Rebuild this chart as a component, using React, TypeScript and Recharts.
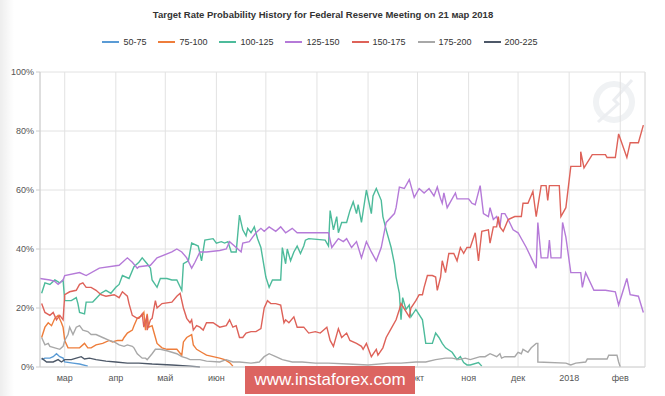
import { CartesianGrid, Line, LineChart, ReferenceLine, XAxis, YAxis } from "recharts";

// x = days since 1 мар 2017, y = probability in %
const monthTicks = [0, 31, 61, 92, 122, 153, 184, 214, 245, 275, 306, 337];
const monthLabels = ["мар", "апр", "май", "июн", "июл", "авг", "сен", "окт", "ноя", "дек", "2018", "фев"];
const percentTicks = [0, 20, 40, 60, 80, 100];

const rate50to75: [number, number][] = [
  [-14, 2.5], [-12, 3], [-9, 3], [-7, 3.5], [-5, 4.5], [-3, 3.5], [-1, 3], [0, 1.7], [5, 1.3], [9, 1], [14, 0.3],
];

const rate75to100: [number, number][] = [
  [-14, 10], [-12, 13.5], [-10, 15], [-8, 14], [-6, 16.5], [-4, 17.5], [-2, 15], [-1, 13.5], [0, 9], [2, 6.5],
  [9, 6.5], [12, 8], [14, 6.5], [16, 6.5], [19, 7.5], [23, 8], [27, 9], [29, 8.5], [32, 9], [35, 9], [36, 10],
  [38, 11.5], [41, 12.5], [42, 14], [44, 16.5], [47, 17.5], [48, 18.5], [49, 12.5], [50, 18], [51, 13.5], [53, 14],
  [55, 10], [56, 8], [59, 6.5], [62, 6], [65, 6], [68, 6], [71, 4], [72, 8.5], [74, 10], [77, 11], [78, 7.5],
  [80, 6], [83, 5], [86, 4], [90, 3.5], [94, 3], [97, 2.5], [100, 1.5], [102, 0.3],
];

const rate100to125: [number, number][] = [
  [-14, 25], [-12, 28.5], [-9, 28], [-6, 29.5], [-3, 28.5], [-1, 29.5], [0, 22.5], [4, 22.5], [7, 23.5], [8, 21.5],
  [9, 18.5], [12, 18], [13, 22], [17, 22], [22, 25], [25, 26], [28, 25], [31, 27], [33, 28], [35, 31], [39, 30],
  [42, 34], [45, 35.5], [47, 37], [50, 35], [52, 33.5], [53, 29.5], [56, 27], [58, 30], [62, 30], [65, 29.5],
  [68, 29.5], [71, 26], [72, 35], [75, 36], [77, 42], [81, 41], [83, 36], [85, 43], [90, 43.5], [92, 42],
  [95, 42.5], [97, 42], [99, 42.5], [101, 39], [104, 39], [106, 51.5], [108, 46.5], [110, 44.5], [111, 47],
  [113, 45.5], [115, 47.5], [117, 43.5], [119, 40.5], [122, 30.5], [124, 27], [126, 29.5], [131, 29.5],
  [132, 40.5], [134, 35], [135, 40], [137, 36], [139, 39], [141, 41], [143, 38.5], [145, 41], [146, 43],
  [148, 43.5], [158, 43], [160, 41], [161, 53], [163, 46.5], [165, 51], [166, 45.5], [168, 49], [171, 49],
  [173, 53], [175, 56], [177, 52], [178, 55], [180, 49], [183, 60], [186, 52], [187, 58], [189, 60.5],
  [192, 56.5], [193, 51], [195, 46.5], [198, 40.5], [200, 35], [201, 30.5], [203, 25], [204, 16], [205, 23.5],
  [207, 19.5], [209, 21], [210, 17], [213, 19.5], [217, 16], [219, 8], [223, 8], [225, 11.5], [227, 10],
  [229, 8], [231, 6.5], [235, 5], [238, 2.5], [240, 3.5], [242, 1.5], [244, 0.7], [246, 0.7], [251, 1.5],
  [253, 0.3],
];

const rate125to150: [number, number][] = [
  [-15, 30], [-9, 29.5], [-6, 29], [-4, 28], [-1, 29.5], [0, 31], [9, 32], [13, 31], [21, 33.5], [33, 34.5],
  [38, 37], [41, 35.5], [44, 33.5], [45, 34], [52, 34.5], [56, 37], [65, 39], [68, 40], [71, 39], [74, 37],
  [77, 33.5], [79, 35.5], [82, 39], [86, 39], [94, 39.5], [98, 40], [100, 42.5], [104, 40.5], [107, 39],
  [108, 42], [112, 42.5], [114, 44], [116, 45.5], [119, 47], [121, 46], [124, 47.5], [128, 46], [131, 47.5],
  [134, 45.5], [138, 47], [141, 45.5], [145, 45.5], [160, 45.5], [162, 40.5], [166, 43.5], [169, 42.5],
  [171, 43.5], [174, 40.5], [177, 42.5], [180, 37], [183, 42.5], [186, 39], [189, 36], [192, 40.5], [195, 49],
  [200, 52], [201, 54], [203, 61], [206, 60.5], [209, 63.5], [212, 57.5], [215, 60.5], [218, 59], [221, 60.5],
  [224, 58], [226, 61], [228, 57], [229, 55.5], [230, 59], [232, 54], [237, 59], [238, 57], [245, 57],
  [247, 55.5], [249, 55], [252, 61.5], [254, 52], [257, 51], [258, 54], [260, 50], [262, 51], [264, 47.5],
  [265, 52], [267, 52], [269, 50], [272, 46.5], [275, 45.5], [280, 40.5], [283, 37], [286, 33.5], [287, 49],
  [289, 37], [293, 37], [294, 43], [295, 37], [301, 37], [302, 49], [304, 44], [307, 32], [313, 32], [314, 27],
  [316, 32], [321, 26], [328, 26], [334, 25.5], [336, 21], [341, 30], [343, 24.5], [348, 24], [351, 18.5],
];

const rate150to175: [number, number][] = [
  [-14, 21.5], [-12, 18.5], [-9, 17.5], [-7, 18.5], [-5, 16], [-3, 17.5], [-1, 16], [0, 24.5], [3, 25.5],
  [7, 26], [9, 28], [11, 28.5], [13, 27], [16, 27], [19, 26], [22, 24.5], [25, 24], [30, 24.5], [33, 23.5],
  [35, 25.5], [38, 24], [39, 21.5], [41, 17.5], [44, 16.5], [45, 16.5], [47, 18], [48, 13.5], [50, 17.5],
  [50, 12.5], [52, 16], [53, 16.5], [55, 22.5], [56, 20], [59, 21.5], [65, 22], [68, 24], [70, 25], [72, 20],
  [74, 16.5], [76, 15], [77, 16], [78, 12.5], [80, 14], [82, 13.5], [84, 12.5], [86, 15], [90, 15], [94, 13.5],
  [98, 14], [100, 16], [102, 13.5], [104, 14], [106, 10], [108, 10], [110, 11.5], [113, 12], [116, 12],
  [119, 13], [121, 20], [123, 22.5], [125, 21.5], [128, 21.5], [131, 21], [133, 15], [134, 16], [136, 15],
  [139, 17], [141, 13.5], [145, 13.5], [148, 11.5], [152, 12], [155, 11.5], [159, 13.5], [161, 9], [163, 7],
  [166, 13], [168, 10], [171, 11.5], [173, 9], [177, 8], [180, 7], [181, 6], [183, 8], [186, 3.5], [189, 6],
  [190, 4], [193, 6.5], [195, 10], [198, 13], [201, 16], [203, 19.5], [204, 21.5], [209, 17], [210, 20],
  [213, 22.5], [215, 24.5], [217, 24.5], [218, 27], [220, 31], [223, 31], [225, 30.5], [226, 26], [228, 30.5],
  [229, 36], [231, 32], [233, 38.5], [236, 38.5], [238, 36], [240, 40.5], [242, 38.5], [244, 40.5], [246, 40.5],
  [249, 45.5], [251, 36], [253, 46], [257, 46.5], [258, 42], [260, 47.5], [262, 47.5], [263, 51], [264, 47.5],
  [266, 46], [269, 50], [273, 51], [277, 51], [278, 55.5], [281, 55.5], [284, 59.5], [286, 51], [289, 61.5],
  [292, 61.5], [293, 56.5], [294, 61.5], [300, 61.5], [301, 51], [304, 54], [307, 68], [313, 68], [313, 73],
  [315, 67.5], [320, 72], [328, 72], [329, 71], [334, 71], [336, 79], [341, 71], [343, 76], [348, 76], [351, 82],
];

const rate175to200: [number, number][] = [
  [-14, 10], [-12, 7.5], [-10, 8], [-9, 7], [-6, 6.5], [-3, 6], [-1, 7], [0, 9], [2, 11], [3, 13.5], [5, 11],
  [7, 13.5], [9, 14], [11, 12.5], [14, 12], [16, 11], [19, 11], [23, 10], [27, 9], [30, 8.5], [33, 7.5], [36, 7],
  [38, 7.5], [41, 7], [42, 6.5], [44, 4.5], [47, 3], [49, 3], [50, 2.5], [53, 4.5], [55, 6], [58, 6], [62, 5.5],
  [65, 5], [68, 4.5], [71, 3.5], [74, 3], [76, 2.5], [82, 2.5], [86, 2], [94, 1.7], [98, 2.5], [102, 1.7],
  [106, 1.7], [113, 1.3], [118, 1.7], [121, 3.5], [124, 4.5], [128, 3.5], [132, 2.5], [138, 1.7], [144, 1.7],
  [152, 1.3], [160, 1.3], [172, 1], [184, 0.7], [197, 1.3], [204, 1.3], [213, 1.7], [219, 1.7], [225, 2.5],
  [231, 3], [235, 3], [239, 2.5], [243, 3], [246, 2.5], [249, 3], [252, 3.5], [255, 3.5], [258, 4.5], [260, 4],
  [262, 3.5], [264, 4.5], [265, 3], [267, 3.5], [273, 3.5], [275, 5], [277, 4.5], [278, 6], [281, 5], [283, 6.5],
  [286, 8], [287, 8], [287, 1.7], [304, 1.3], [307, 0.7], [310, 1.3], [316, 1.7], [317, 2.7], [329, 2.7],
  [330, 4], [335, 4], [336, 1.7], [337, 0],
];

const rate200to225: [number, number][] = [
  [-14, 3], [-11, 1.7], [-7, 1.7], [-4, 2.5], [-2, 1.7], [0, 2.5], [4, 2.5], [7, 3], [10, 3.5], [12, 2.7],
  [15, 3], [19, 2.5], [25, 2], [31, 1.7], [38, 1.3], [45, 1.3], [53, 1], [65, 0.7], [76, 0.3], [82, 0],
];

const series = [
  { name: "50-75", color: "#5a9bd5", points: rate50to75 },
  { name: "75-100", color: "#ee7d3b", points: rate75to100 },
  { name: "100-125", color: "#4dbb9b", points: rate100to125 },
  { name: "125-150", color: "#b57ad8", points: rate125to150 },
  { name: "150-175", color: "#de6259", points: rate150to175 },
  { name: "175-200", color: "#a8a8a8", points: rate175to200 },
  { name: "200-225", color: "#4d5868", points: rate200to225 },
];

const font = "'Liberation Sans', Arial, sans-serif";

export default function App() {
  return (
    <div
      style={{
        position: "absolute",
        left: 0,
        top: 0,
        width: 665,
        height: 396,
        background: "#fff",
        overflow: "hidden",
        fontFamily: font,
      }}
    >
      <div
        style={{
          position: "absolute",
          left: 0,
          top: 0,
          width: 14,
          height: 396,
          background: "linear-gradient(to right, rgba(0,0,0,0.07), rgba(0,0,0,0))",
        }}
      />
      <div
        style={{
          position: "absolute",
          top: 9,
          left: 0,
          width: 646,
          textAlign: "center",
          fontSize: 9.5,
          fontWeight: 700,
          color: "#333",
        }}
      >
        Target Rate Probability History for Federal Reserve Meeting on 21 мар 2018
      </div>
      <div
        style={{
          position: "absolute",
          top: 37,
          left: 0,
          width: 640,
          display: "flex",
          justifyContent: "center",
          gap: 12,
          fontSize: 9,
          color: "#333",
        }}
      >
        {series.map((s) => (
          <div key={s.name} style={{ display: "flex", alignItems: "center", gap: 4 }}>
            <div style={{ width: 17, height: 2, background: s.color }} />
            <span>{s.name}</span>
          </div>
        ))}
      </div>

      <svg style={{ position: "absolute", left: 588, top: 76 }} width={56} height={56}>
        <circle cx={26} cy={26} r={18} fill="none" stroke="#f0f2f4" strokeWidth={6} />
        <polyline points="44,4 26,24 30,28 10,46" fill="none" stroke="#eceef1" strokeWidth={3} />
      </svg>

      <div style={{ position: "absolute", left: 0, top: 0 }}>
        <LineChart width={665} height={396} margin={{ top: 72, right: 20, bottom: 9, left: 0 }}>
          <CartesianGrid stroke="#e2e2e2" />
          <XAxis
            dataKey="d"
            type="number"
            domain={[-15, 352]}
            ticks={monthTicks}
            tickFormatter={(v: number) => monthLabels[monthTicks.indexOf(v)]}
            tickLine={false}
            axisLine={{ stroke: "#d4d4d4" }}
            height={20}
            tick={{ fontSize: 9, fill: "#555", fontFamily: font }}
            allowDataOverflow
          />
          <YAxis
            domain={[0, 100]}
            ticks={percentTicks}
            tickFormatter={(v: number) => `${v}%`}
            width={40}
            tickSize={4}
            tickMargin={2}
            tickLine={{ stroke: "#ccc" }}
            axisLine={{ stroke: "#ccc" }}
            tick={{ fontSize: 9, fill: "#555", fontFamily: font }}
          />
          <ReferenceLine x={352} stroke="#e2e2e2" />
          {series.map((s) => (
            <Line
              key={s.name}
              data={s.points.map(([d, v]) => ({ d, v }))}
              dataKey="v"
              name={s.name}
              type="linear"
              stroke={s.color}
              strokeWidth={1.4}
              dot={false}
              isAnimationActive={false}
            />
          ))}
        </LineChart>
      </div>

      <div
        style={{
          position: "absolute",
          left: 245,
          top: 366,
          width: 170,
          height: 28,
          background: "#dc6461",
          color: "#fff",
          fontSize: 17,
          lineHeight: "28px",
          textAlign: "center",
        }}
      >
        www.instaforex.com
      </div>
    </div>
  );
}
